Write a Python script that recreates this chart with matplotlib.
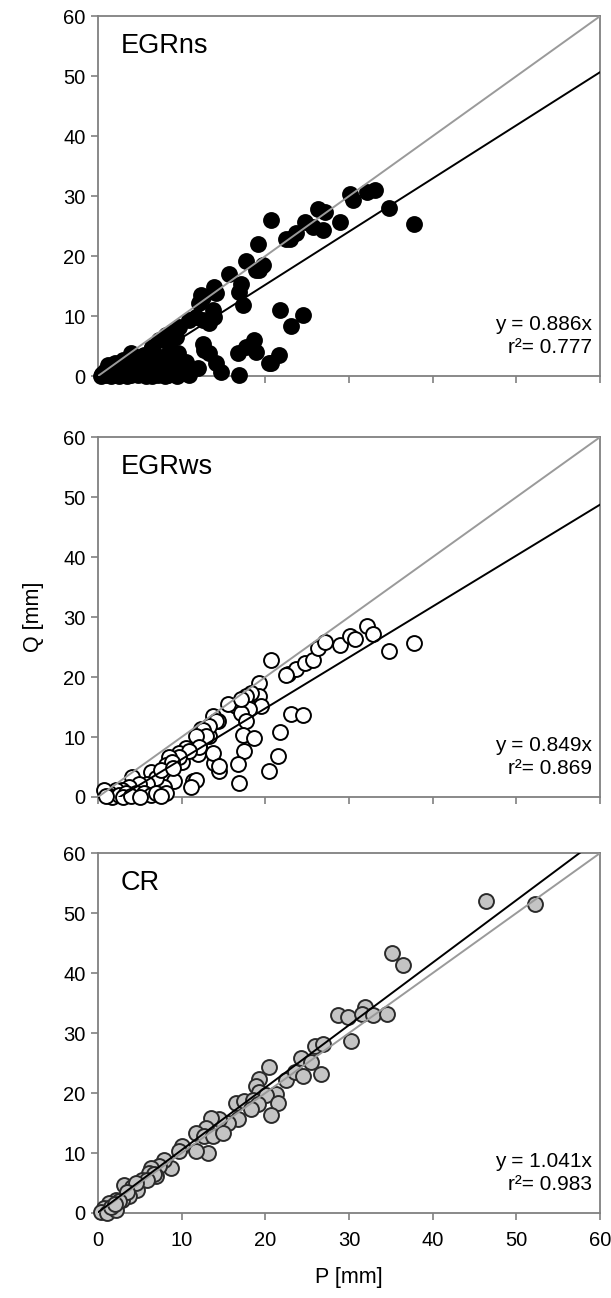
import numpy as np
import matplotlib.pyplot as plt

plt.rcParams["font.family"] = ["Liberation Sans", "DejaVu Sans"]

# ---- data (P [mm], Q [mm])
ns_p = [20.7, 19.1, 15.6, 17.7, 19.3, 13.9, 12.3, 16.9, 22.9, 23.7, 24.7, 26.3, 27.1, 25.7,
        26.9, 28.9, 30.1, 30.5, 32.1, 33.1, 34.8, 37.8, 22.5, 19.7, 18.9, 17.1, 14.1, 12.5,
        12.1, 13.7, 13.9, 13.3, 12.5, 10.9, 11.7, 9.7, 8.9, 8.1, 7.3, 6.5, 8.5, 9.3, 3.9, 6.3,
        21.8, 23.1, 24.5, 21.6, 20.7, 17.3, 12.5, 13.3, 12.7, 14.1, 14.7, 11.9, 10.9, 16.9,
        16.7, 17.7, 18.7, 18.9, 20.5,
        0.5, 0.8, 1.0, 1.3, 1.6, 1.9, 2.2, 2.5, 2.8, 3.1, 3.4, 3.6, 3.9, 4.2, 4.5, 4.8, 5.1,
        5.4, 5.7, 6.0, 6.3, 6.6, 6.9, 7.2, 7.5, 7.8, 8.1, 8.4, 8.7, 9.0, 9.4, 9.8, 10.2, 10.5,
        2.0, 4.0, 5.5, 3.0, 1.2, 7.0, 8.5, 9.6, 0.3, 1.5, 3.5, 6.5, 8.0, 9.5]
ns_q = [26.1, 22.0, 17.0, 19.2, 17.7, 14.9, 13.5, 14.0, 22.9, 23.8, 25.7, 27.9, 27.4, 24.9,
        24.3, 25.7, 30.3, 29.3, 30.7, 31.0, 28.1, 25.3, 22.8, 18.5, 17.7, 15.4, 13.8, 13.2,
        12.1, 11.0, 9.9, 8.8, 9.3, 9.3, 9.9, 8.2, 7.4, 6.8, 6.0, 4.9, 5.4, 6.5, 3.8, 4.3,
        11.0, 8.4, 10.1, 3.5, 2.2, 11.8, 5.4, 3.8, 4.3, 2.1, 0.7, 1.3, 0.2, 0.2,
        3.8, 4.9, 6.0, 4.0, 2.1,
        0.3, 0.9, 0.1, 0.5, 1.2, 0.2, 0.7, 0.0, 1.4, 0.3, 0.9, 2.0, 0.1, 0.6, 1.5, 0.2, 2.4,
        0.8, 0.0, 1.6, 0.4, 2.8, 1.0, 0.1, 2.0, 0.6, 1.4, 0.2, 2.6, 0.9, 0.3, 1.7, 0.5, 2.3,
        2.2, 3.0, 3.5, 2.6, 1.8, 3.3, 3.6, 3.9, 0.0, 0.0, 0.0, 0.0, 0.0, 0.0]

ws_p = [20.7, 19.2, 19.3, 18.3, 17.7, 19.5, 18.1, 16.5, 15.5, 17.1, 17.7, 14.3, 13.7, 17.3,
        18.7, 17.5, 16.7, 16.9, 14.5, 13.9, 13.7, 12.3, 13.3, 10.5, 12.1, 11.9, 10.1, 9.7,
        11.3, 11.7, 21.7, 21.5, 20.5, 23.1, 24.5, 22.7, 23.7, 24.7, 25.7, 26.3, 27.1, 28.9,
        30.1, 30.7, 32.1, 32.9, 34.8, 37.8, 22.5, 17.1, 14.1, 13.3, 12.5, 12.9, 11.7, 12.1,
        10.9, 9.7, 8.5, 8.1, 8.9, 14.5, 11.1, 9.1, 7.9,
        4.1, 6.3, 6.9, 5.9, 4.9, 3.7, 2.9, 2.1, 1.3, 0.7, 1.7, 2.5, 3.3, 4.5, 5.5, 6.3, 6.9,
        8.1, 1.0, 3.0, 4.0, 5.0, 7.5, 7.5, 9.0]
ws_q = [22.9, 19.0, 16.8, 17.4, 16.9, 15.2, 14.6, 15.2, 15.5, 14.0, 12.7, 12.7, 13.5, 10.4,
        9.9, 7.6, 5.5, 2.3, 4.3, 5.6, 7.3, 11.3, 10.2, 8.2, 8.5, 7.1, 5.9, 7.3,
        2.6, 2.9, 10.8, 6.8, 4.4, 13.9, 13.6, 20.5, 21.4, 22.4, 22.9, 24.8, 25.8, 25.4,
        26.9, 26.4, 28.5, 27.1, 24.4, 25.7, 20.3, 16.3, 12.7, 11.9, 11.1, 10.1, 10.1, 8.3,
        7.7, 6.7, 6.7, 5.3, 5.9, 5.1, 1.7, 2.6, 1.7,
        3.4, 4.2, 3.1, 2.2, 2.2, 1.7, 1.2, 1.2, 0.6, 1.2, 0.0, 0.3, 0.6, 0.6, 0.6, 0.3, 0.6,
        0.6, 0.2, 0.0, 0.1, 0.0, 0.1, 4.5, 4.8]

cr_p = [46.4, 52.2, 35.2, 36.4, 28.7, 29.9, 31.9, 31.5, 32.9, 34.5, 30.3, 25.9, 26.9, 24.3,
        25.5, 20.5, 22.5, 23.5, 24.5, 26.7, 19.3, 18.9, 19.3, 21.3, 20.1, 21.5, 20.7, 16.5,
        17.5, 18.5, 19.1, 18.3, 16.7, 15.5, 14.5, 13.5, 12.9, 11.7, 12.7, 13.7, 14.9, 13.1,
        11.7, 10.1, 9.7, 8.7, 7.9, 7.3, 6.3, 6.1, 6.9, 5.3, 3.1, 4.1, 4.7, 3.7, 2.9, 2.1,
        1.3, 1.9, 0.7, 0.3, 1.1, 2.1, 6.7, 5.8, 4.5, 3.5, 2.5, 1.5, 2.0]
cr_q = [52.0, 51.6, 43.4, 41.4, 33.0, 32.6, 34.3, 33.2, 33.0, 33.2, 28.6, 27.9, 28.2, 25.8,
        25.1, 24.4, 22.2, 23.5, 22.9, 23.1, 22.3, 21.2, 20.1, 19.8, 19.6, 18.3, 16.4, 18.3,
        18.6, 18.9, 18.1, 17.3, 15.6, 15.0, 15.6, 15.9, 14.2, 13.4, 12.8, 12.8, 13.4, 10.0,
        10.3, 11.1, 10.3, 7.5, 8.9, 7.8, 7.5, 6.7, 6.1, 5.5, 4.7, 4.4, 3.9, 2.8, 2.2, 2.2,
        1.6, 0.8, 0.8, 0.2, 0.0, 0.5, 6.5, 5.5, 5.0, 3.5, 2.0, 1.0, 1.5]

names = ["EGRns", "EGRws", "CR"]
slopes = [0.886, 0.849, 1.041]
intercepts = [-2.5, -2.2, 0.1]
r2 = ["0.777", "0.869", "0.983"]

# ---- figure
fig = plt.figure(figsize=(6.11, 12.98), dpi=100)
left, width = 0.1604, 0.8215
bottoms = [0.7103, 0.3860, 0.0655]
height = 0.2772

styles = [dict(facecolor="black", edgecolor="black"),
          dict(facecolor="white", edgecolor="black"),
          dict(facecolor="#c4c4c4", edgecolor="#2a2a2a")]
data = [(ns_p, ns_q), (ws_p, ws_q), (cr_p, cr_q)]

xx = np.array([0, 60])
for i in range(3):
    ax = fig.add_axes([left, bottoms[i], width, height])
    p, q = data[i]
    ax.scatter(p, q, s=115, linewidths=1.4, zorder=3, clip_on=False, **styles[i])
    ax.plot(xx, xx, color="#9a9a9a", lw=1.4, zorder=4)
    ax.plot(xx, slopes[i] * xx + intercepts[i], color="black", lw=1.4, zorder=4)
    ax.set_xlim(0, 60)
    ax.set_ylim(0, 60)
    ax.set_xticks(range(0, 61, 10))
    ax.set_yticks(range(0, 61, 10))
    for sp in ax.spines.values():
        sp.set_color("#808080")
        sp.set_linewidth(1.3)
    ax.tick_params(direction="out", length=5, width=1.2, color="#808080",
                   labelsize=14.5, pad=4)
    ax.tick_params(axis="x", pad=8)
    if i < 2:
        ax.tick_params(labelbottom=False)
    ax.text(0.045, 0.918, names[i], transform=ax.transAxes, fontsize=19.5,
            ha="left", va="center")
    ax.text(0.985, 0.142, "y = %.3fx" % slopes[i], transform=ax.transAxes,
            fontsize=15, ha="right", va="center")
    ax.text(0.985, 0.078, "r²= " + r2[i], transform=ax.transAxes,
            fontsize=15, ha="right", va="center")
    if i == 1:
        ax.set_ylabel("Q [mm]", fontsize=15.5, labelpad=14)
    if i == 2:
        ax.set_xlabel("P [mm]", fontsize=15.5, labelpad=12)

fig.savefig("out.png", dpi=100)
